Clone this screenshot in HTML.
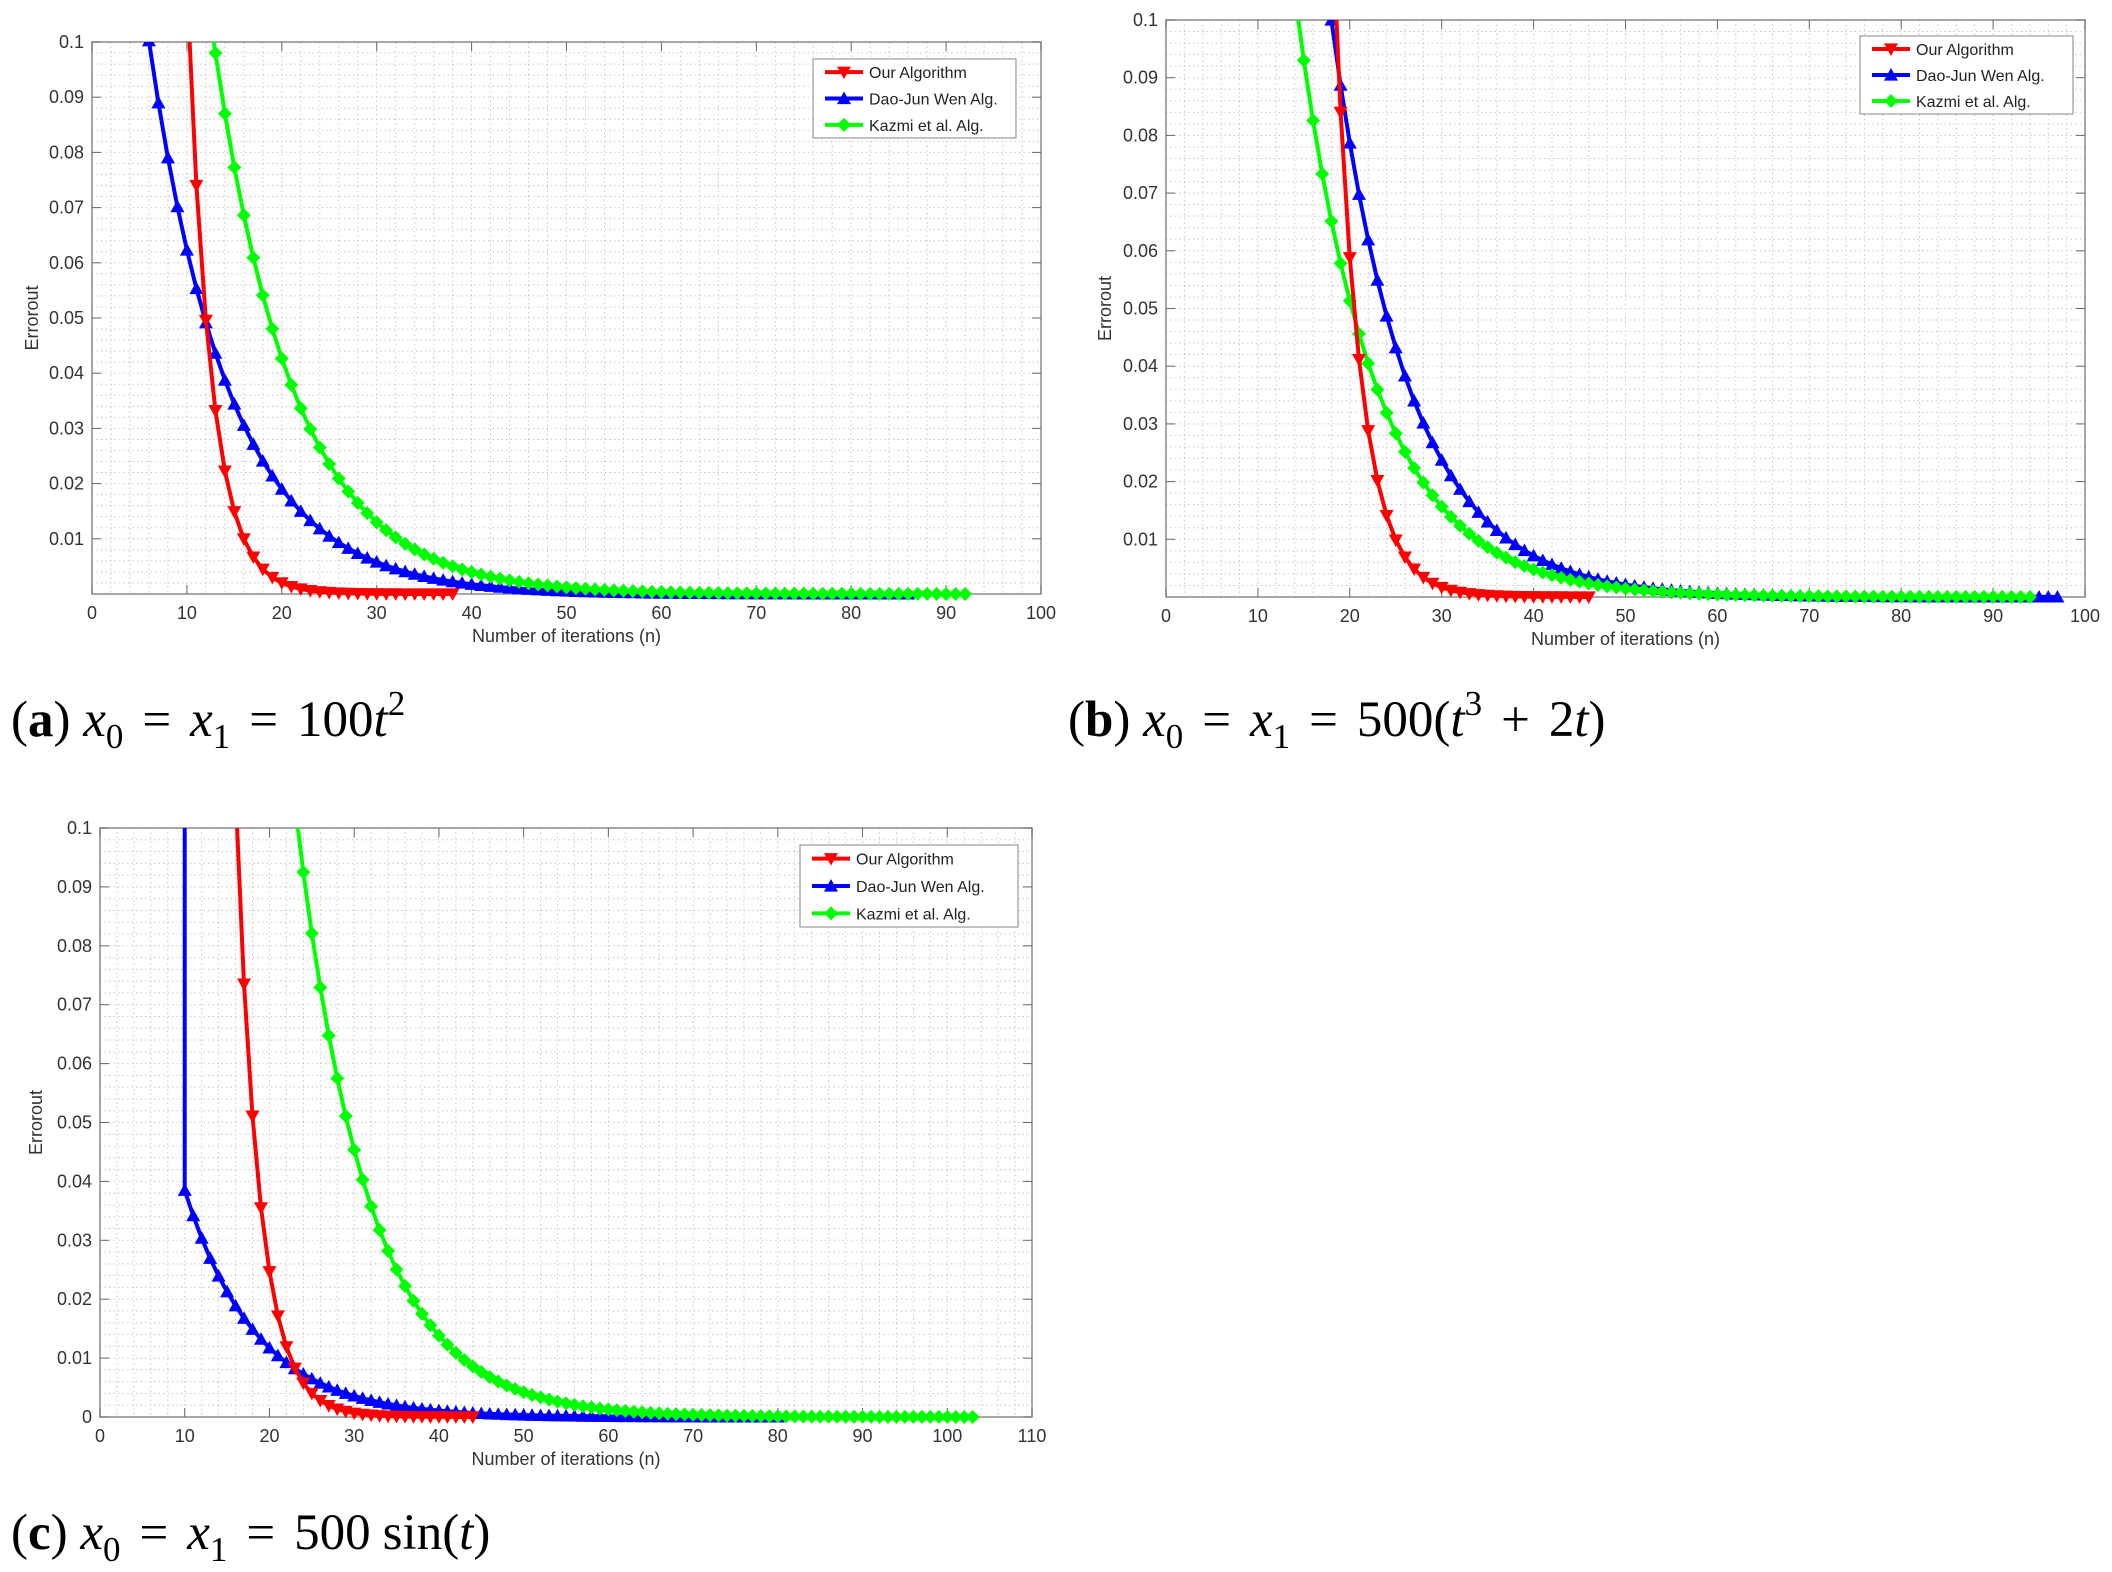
<!DOCTYPE html>
<html><head><meta charset="utf-8">
<style>
html,body{margin:0;padding:0;background:#fff;}
body{width:2112px;height:1572px;position:relative;overflow:hidden;}
svg{position:absolute;left:0;top:0;}
.cap{position:absolute;font-family:"Liberation Serif",serif;font-size:51px;color:#000;white-space:nowrap;line-height:1;}
.cap i{font-style:italic;}
.cap sub{font-size:35px;vertical-align:-12px;}
.cap sup{font-size:35px;vertical-align:21px;}
.eq{display:inline-block;margin:0 19px;}
.sp{display:inline-block;width:12px;}
</style></head><body>
<svg id="s" width="2112" height="1572" xmlns="http://www.w3.org/2000/svg"></svg>
<div class="cap" style="left:11px;top:686px;">(<b>a</b>) <i>x</i><sub>0</sub><span class="eq">=</span><i>x</i><sub>1</sub><span class="eq">=</span>100<i>t</i><sup>2</sup></div>
<div class="cap" style="left:1068px;top:686px;">(<b>b</b>) <i>x</i><sub>0</sub><span class="eq">=</span><i>x</i><sub>1</sub><span class="eq">=</span>500(<i>t</i><sup>3</sup><span class="eq">+</span>2<i>t</i>)</div>
<div class="cap" style="left:11px;top:1508px;">(<b>c</b>) <i>x</i><sub>0</sub><span class="eq">=</span><i>x</i><sub>1</sub><span class="eq">=</span>500<span class="sp"></span>sin(<i>t</i>)</div>
<script>
var svg=document.getElementById('s');var out='';
function panel(o){
 var L=o.L,R=o.R,T=o.T,B=o.B,xm=o.xmax;
 function X(v){return L+(R-L)*v/xm;} function Y(v){return B-(B-T)*v/0.1;}
 var g='<rect x="'+L+'" y="'+T+'" width="'+(R-L)+'" height="'+(B-T)+'" fill="#fff"/>';
 g+='<clipPath id="c'+o.id+'"><rect x="'+(L-8)+'" y="'+T+'" width="'+(R-L+16)+'" height="'+(B-T+8)+'"/></clipPath>';
 for(var v=2;v<xm;v+=2){var x=X(v);g+='<line x1="'+x+'" y1="'+T+'" x2="'+x+'" y2="'+B+'" stroke="#c8c8c8" stroke-width="1" stroke-dasharray="1.5,3"/>';}
 for(var k=1;k<50;k++){var y=Y(k*0.002);g+='<line x1="'+L+'" y1="'+y+'" x2="'+R+'" y2="'+y+'" stroke="#c8c8c8" stroke-width="1" stroke-dasharray="1.5,3"/>';}
 g+='<rect x="'+L+'" y="'+T+'" width="'+(R-L)+'" height="'+(B-T)+'" fill="none" stroke="#8a8a8a" stroke-width="1.5"/>';
 var ft='font-family="Liberation Sans,sans-serif" font-size="18" fill="#333"';
 for(var v=0;v<=xm;v+=10){var x=X(v);
  g+='<line x1="'+x+'" y1="'+B+'" x2="'+x+'" y2="'+(B-9)+'" stroke="#666"/><line x1="'+x+'" y1="'+T+'" x2="'+x+'" y2="'+(T+9)+'" stroke="#666"/>';
  g+='<text x="'+x+'" y="'+(B+25)+'" text-anchor="middle" '+ft+'>'+v+'</text>';}
 for(var k=o.zero?0:1;k<=10;k++){var y=Y(k*0.01);
  g+='<line x1="'+L+'" y1="'+y+'" x2="'+(L+9)+'" y2="'+y+'" stroke="#666"/><line x1="'+R+'" y1="'+y+'" x2="'+(R-9)+'" y2="'+y+'" stroke="#666"/>';
  var lab=k==0?'0':(k==10?'0.1':'0.0'+k);
  g+='<text x="'+(L-8)+'" y="'+(y+6)+'" text-anchor="end" '+ft+'>'+lab+'</text>';}
 g+='<text x="'+((L+R)/2)+'" y="'+(B+48)+'" text-anchor="middle" '+ft+'>Number of iterations (n)</text>';
 g+='<text transform="translate('+o.yl+','+((T+B)/2)+') rotate(-90)" text-anchor="middle" '+ft+'>Errorout</text>';
 g+='<g clip-path="url(#c'+o.id+')">';
 o.series.forEach(function(s){
  var pts=[];if(s.pre)pts.push([X(s.pre[0]),Y(s.pre[1])]);
  for(var n=s.n0;n<=s.n1;n++){pts.push([X(n),Y(s.a*Math.pow(s.r,n-s.m))]);}
  g+='<polyline points="'+pts.map(function(p){return p[0].toFixed(1)+','+p[1].toFixed(1)}).join(' ')+'" fill="none" stroke="'+s.c+'" stroke-width="4" stroke-linejoin="round"/>';
  for(var n=s.n0;n<=s.n1;n++){var x=X(n),y=Y(s.a*Math.pow(s.r,n-s.m));if(y>T-8)g+=mk(s.t,x,y,s.c);}
 });
 g+='</g>';
 var lg=o.lg;g+='<rect x="'+lg[0]+'" y="'+lg[1]+'" width="'+lg[2]+'" height="'+lg[3]+'" fill="#fff" stroke="#999" stroke-width="1.2"/>';
 var names=['Our Algorithm','Dao-Jun Wen Alg.','Kazmi et al. Alg.'],cols=['#ff0000','#0000ff','#00ff00'],ts=['v','^','d'];
 for(var i=0;i<3;i++){var y=lg[1]+lg[3]*(i*2+1)/6;var x0=lg[0]+12;
  g+='<line x1="'+x0+'" y1="'+y+'" x2="'+(x0+38)+'" y2="'+y+'" stroke="'+cols[i]+'" stroke-width="4"/>'+mk(ts[i],x0+19,y,cols[i]);
  g+='<text x="'+(x0+44)+'" y="'+(y+6)+'" font-family="Liberation Sans,sans-serif" font-size="16" fill="#222">'+names[i]+'</text>';}
 return g;
}
function mk(t,x,y,c){var r=7;
 if(t=='v')return '<polygon points="'+(x-r)+','+(y-r*0.8)+' '+(x+r)+','+(y-r*0.8)+' '+x+','+(y+r)+'" fill="'+c+'"/>';
 if(t=='^')return '<polygon points="'+(x-r)+','+(y+r*0.8)+' '+(x+r)+','+(y+r*0.8)+' '+x+','+(y-r)+'" fill="'+c+'"/>';
 return '<polygon points="'+(x-r)+','+y+' '+x+','+(y-r)+' '+(x+r)+','+y+' '+x+','+(y+r)+'" fill="'+c+'"/>';}
var R='#ff0000',Bc='#0000ff',G='#00ff00';
out+=panel({id:'a',L:92,R:1041,T:42,B:594,xmax:100,zero:false,yl:38,lg:[813,59,203,79],series:[
 {c:Bc,t:'^',a:0.089,r:0.888,m:7,n0:6,n1:86},
 {c:G,t:'d',a:0.098,r:0.888,m:13,n0:12,n1:92},
 {c:R,t:'v',a:0.074,r:0.67,m:11,n0:10,n1:38}]});
out+=panel({id:'b',L:1166,R:2085,T:20,B:597,xmax:100,zero:false,yl:1111,lg:[1860,36,213,78],series:[
 {c:Bc,t:'^',a:0.1,r:0.887,m:18,n0:17,n1:97},
 {c:G,t:'d',a:0.093,r:0.888,m:15,n0:14,n1:94},
 {c:R,t:'v',a:0.084,r:0.7,m:19,n0:18,n1:46}]});
out+=panel({id:'c',L:100,R:1032,T:828,B:1417,xmax:110,zero:true,yl:42,lg:[800,845,218,82],series:[
 {c:Bc,t:'^',a:0.0385,r:0.888,m:10,n0:10,n1:80,pre:[10,0.12]},
 {c:G,t:'d',a:0.0925,r:0.888,m:24,n0:23,n1:103},
 {c:R,t:'v',a:0.0735,r:0.695,m:17,n0:16,n1:44}]});
svg.innerHTML=out;
</script>
</body></html>
